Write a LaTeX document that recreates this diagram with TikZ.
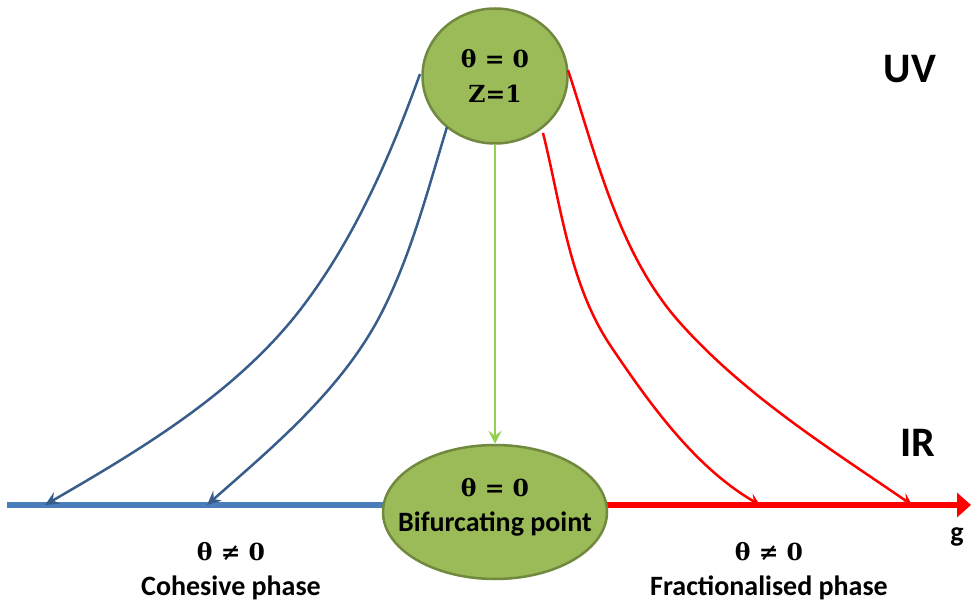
\documentclass[tikz,border=0pt]{standalone}
\usepackage{fontspec}
\setmainfont{Carlito}
\newfontfamily\cambria{DejaVu Serif}
\usetikzlibrary{arrows.meta,shapes.geometric}

\definecolor{fpfill}{HTML}{9BBB59}
\definecolor{fpline}{HTML}{71893F}
\definecolor{axblue}{HTML}{4A7EBB}
\definecolor{flowblue}{HTML}{385D8A}
\definecolor{flowgreen}{HTML}{92D050}

\newcommand{\thsize}{\cambria\fontsize{23.5}{35}\selectfont}

\begin{document}
\begin{tikzpicture}[
  x=1pt,y=-1pt,
  fixpt/.style={ellipse,draw=fpline,line width=2.5pt,fill=fpfill,align=center,inner sep=0pt},
  phase/.style={align=center,font=\bfseries\fontsize{28}{35}\selectfont},
  regime/.style={font=\bfseries\fontsize{42}{46}\selectfont},
  bflow/.style={draw=flowblue,line width=2.5pt,-{Stealth[length=14pt,width=13pt,inset=5pt]}},
  rflow/.style={draw=red,line width=2.5pt,-{Stealth[length=12pt,width=12pt,inset=5pt]}},
  gflow/.style={draw=flowgreen,line width=2.5pt,-{Stealth[length=13pt,width=13pt,inset=5pt]}}
]
  \useasboundingbox (0,0) rectangle (971,604);

  % coupling axis
  \coordinate (gL) at (7,505);
  \coordinate (gM) at (495,505);
  \coordinate (gR) at (971,505);
  \draw[axblue,line width=6pt] (gL) -- (gM);
  \draw[red,line width=6pt,-{Triangle[length=14pt,width=24pt]}] (gM) -- (gR);

  % fixed points
  \node[fixpt,minimum width=145pt,minimum height=135pt,
        label={[align=center,font=\bfseries\thsize]center:θ = 0\\Z=1}] (uvfp) at (495,76) {};
  \node[fixpt,minimum width=224pt,minimum height=134pt,
        label={[phase,yshift=5pt]center:{\thsize θ = 0}\\Bifurcating point}] (bif) at (495,512) {};

  \draw[gflow] (uvfp.south) -- (bif.north);

  % flows towards the cohesive phase
  \coordinate (b1s) at (420,74);
  \coordinate (b1m) at (300,310);
  \coordinate (b1e) at (45,505);
  \coordinate (b2s) at (447,127);
  \coordinate (b2m) at (383,310);
  \coordinate (b2e) at (207,505);
  \draw[bflow] (b1s) .. controls (390,157) and (354,240) .. (b1m)
                     .. controls (235,394) and (138,451) .. (b1e);
  \draw[bflow] (b2s) .. controls (428,189) and (412,252) .. (b2m)
                     .. controls (344,388) and (274,446) .. (b2e);

  % flows towards the fractionalised phase
  \coordinate (r1s) at (568,70);
  \coordinate (r1m) at (682,325);
  \coordinate (r1e) at (912,505);
  \coordinate (r2s) at (543,133);
  \coordinate (r2m) at (610,345);
  \coordinate (r2e) at (760,505);
  \draw[rflow] (r1s) .. controls (597,158) and (619,256) .. (r1m)
                     .. controls (747,397) and (832,450) .. (r1e);
  \draw[rflow] (r2s) .. controls (561,205) and (569,283) .. (r2m)
                     .. controls (651,406) and (696,468) .. (r2e);

  % labels
  \node[regime] (uv) at (910,69) {UV};
  \node[regime] (ir) at (918,443) {IR};
  \node[phase] (g) at (957,537) {g};
  \node[phase] (coh) at (231,571) {{\thsize θ ≠ 0}\\Cohesive phase};
  \node[phase] (frac) at (769,571) {{\thsize θ ≠ 0}\\Fractionalised phase};
\end{tikzpicture}
\end{document}
